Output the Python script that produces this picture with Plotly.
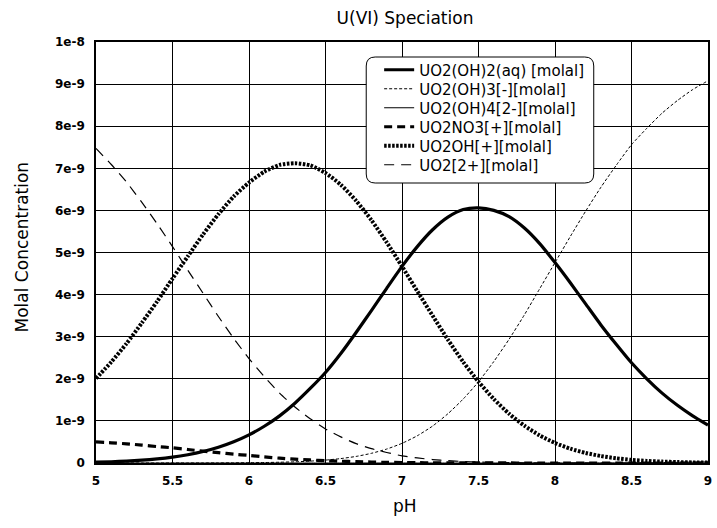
import plotly.graph_objects as go

# pH grid
ph = [5.0, 5.1, 5.2, 5.3, 5.4, 5.5, 5.6, 5.7, 5.8, 5.9,
      6.0, 6.1, 6.2, 6.3, 6.4, 6.5, 6.6, 6.7, 6.8, 6.9,
      7.0, 7.1, 7.2, 7.3, 7.4, 7.5, 7.6, 7.7, 7.8, 7.9,
      8.0, 8.1, 8.2, 8.3, 8.4, 8.5, 8.6, 8.7, 8.8, 8.9, 9.0]

# concentrations in units of 1e-9 molal
uo2oh2_aq = [0.020, 0.030, 0.045, 0.066, 0.096, 0.138, 0.196, 0.272, 0.373, 0.503,
             0.668, 0.873, 1.12, 1.42, 1.77, 2.15, 2.60, 3.10, 3.62, 4.15,
             4.67, 5.14, 5.54, 5.84, 6.02, 6.06, 6.00, 5.85, 5.58, 5.21,
             4.76, 4.28, 3.78, 3.28, 2.82, 2.38, 2.00, 1.66, 1.37, 1.12, 0.90]
uo2oh3 = [0.0, 0.0, 0.0, 0.0, 0.0, 0.001, 0.001, 0.001, 0.002, 0.004,
          0.007, 0.011, 0.018, 0.028, 0.045, 0.069, 0.105, 0.156, 0.230, 0.331,
          0.467, 0.647, 0.878, 1.17, 1.52, 1.93, 2.41, 2.94, 3.52, 4.14,
          4.76, 5.38, 5.98, 6.55, 7.07, 7.56, 7.95, 8.31, 8.61, 8.87, 9.08]
uo2oh4 = [0.0, 0.0, 0.0, 0.0, 0.0, 0.0, 0.0, 0.0, 0.0, 0.0,
          0.0, 0.0, 0.0, 0.0, 0.0, 0.0, 0.0, 0.0, 0.0, 0.0,
          0.0, 0.0, 0.0, 0.0, 0.0, 0.0, 0.0, 0.0, 0.0, 0.0,
          0.001, 0.001, 0.002, 0.003, 0.004, 0.006, 0.008, 0.011, 0.015, 0.020, 0.026]
uo2no3 = [0.50, 0.48, 0.455, 0.425, 0.39, 0.36, 0.32, 0.28, 0.245, 0.21,
          0.18, 0.145, 0.115, 0.092, 0.072, 0.055, 0.042, 0.031, 0.023, 0.016,
          0.012, 0.008, 0.005, 0.004, 0.002, 0.002, 0.001, 0.001, 0.0, 0.0,
          0.0, 0.0, 0.0, 0.0, 0.0, 0.0, 0.0, 0.0, 0.0, 0.0, 0.0]
uo2oh = [2.01, 2.40, 2.84, 3.33, 3.84, 4.38, 4.91, 5.43, 5.91, 6.33,
         6.66, 6.92, 7.08, 7.12, 7.07, 6.89, 6.61, 6.23, 5.77, 5.24,
         4.67, 4.08, 3.50, 2.93, 2.40, 1.93, 1.52, 1.17, 0.885, 0.655,
         0.476, 0.340, 0.238, 0.165, 0.112, 0.075, 0.050, 0.033, 0.022, 0.014, 0.009]
uo2 = [7.47, 7.09, 6.67, 6.19, 5.68, 5.14, 4.58, 4.03, 3.48, 2.96,
       2.48, 2.05, 1.66, 1.33, 1.05, 0.81, 0.62, 0.46, 0.34, 0.25,
       0.17, 0.12, 0.082, 0.055, 0.036, 0.023, 0.014, 0.009, 0.005, 0.003,
       0.002, 0.001, 0.001, 0.0, 0.0, 0.0, 0.0, 0.0, 0.0, 0.0, 0.0]

series_names = ["UO2(OH)2(aq) [molal]", "UO2(OH)3[-][molal]", "UO2(OH)4[2-][molal]",
                "UO2NO3[+][molal]", "UO2OH[+][molal]", "UO2[2+][molal]"]
series_values = [uo2oh2_aq, uo2oh3, uo2oh4, uo2no3, uo2oh, uo2]
series_styles = [dict(width=3.2, dash="solid"),
                 dict(width=1, dash="3px,2px"),
                 dict(width=1, dash="solid"),
                 dict(width=3.2, dash="8px,5px"),
                 dict(width=4, dash="2.5px,1.5px"),
                 dict(width=1.2, dash="10px,7px")]

y_tickvals = [0, 1, 2, 3, 4, 5, 6, 7, 8, 9, 10]
y_ticktext = ["0", "1e-9", "2e-9", "3e-9", "4e-9", "5e-9", "6e-9", "7e-9", "8e-9", "9e-9", "1e-8"]
x_tickvals = [5, 5.5, 6, 6.5, 7, 7.5, 8, 8.5, 9]
x_ticktext = ["5", "5.5", "6", "6.5", "7", "7.5", "8", "8.5", "9"]

FONT = "DejaVu Sans, Verdana, sans-serif"
W, H = 717, 528
L, R, T, B = 96, 5, 42, 65
pw, ph_px = W - L - R, H - T - B

def px2paper(x, y):
    return (x - L) / pw, (H - B - y) / ph_px

legend_ids = ["legend", "legend2", "legend3", "legend4", "legend5", "legend6"]
row_centers = [70, 89, 108, 127, 146, 165]

fig = go.Figure()
for name, vals, st, lid in zip(series_names, series_values, series_styles, legend_ids):
    fig.add_trace(go.Scatter(
        x=ph, y=[v * 1e-9 for v in vals], mode="lines", name=name, legend=lid,
        line=dict(color="black", width=st["width"], dash=st["dash"], shape="spline", smoothing=0.6),
    ))

# rounded legend box
x0, y0 = px2paper(368, 57)
x1, y1 = px2paper(597, 183)
rx, ry = 9 / pw, 9 / ph_px
path = (f"M {x0+rx},{y0} L {x1-rx},{y0} Q {x1},{y0} {x1},{y0-ry} "
        f"L {x1},{y1+ry} Q {x1},{y1} {x1-rx},{y1} L {x0+rx},{y1} "
        f"Q {x0},{y1} {x0},{y1+ry} L {x0},{y0-ry} Q {x0},{y0} {x0+rx},{y0} Z")
fig.add_shape(type="path", path=path, xref="paper", yref="paper",
              fillcolor="white", line=dict(color="black", width=1), layer="above")

legend_layout = {}
for lid, rc in zip(legend_ids, row_centers):
    lx, ly = px2paper(381, rc)
    legend_layout[lid] = dict(x=lx, y=ly, xanchor="left", yanchor="middle",
                              bgcolor="rgba(0,0,0,0)", borderwidth=0,
                              font=dict(size=15, family=FONT, color="black"),
                              itemwidth=30)

ax_x, ax_y = px2paper(22, 247)
ph_x, ph_y = px2paper(407, 506)

tickfont = dict(size=12, family="DejaVu Sans, sans-serif", color="black", weight=700)

fig.update_layout(
    width=W, height=H,
    margin=dict(l=L, r=R, t=T, b=B),
    paper_bgcolor="white", plot_bgcolor="white",
    font=dict(family=FONT, color="black"),
    title=dict(text="U(VI) Speciation", x=405 / W, xanchor="center",
               y=1 - 18 / H, yanchor="middle", font=dict(size=17, family=FONT, color="black")),
    showlegend=True,
    **legend_layout,
    xaxis=dict(range=[5, 9], tickvals=x_tickvals, ticktext=x_ticktext,
               showgrid=True, gridcolor="black", gridwidth=1, zeroline=False,
               showline=True, linecolor="black", linewidth=1.5, mirror=True, ticks="",
               ticklabelstandoff=6, tickfont=tickfont),
    yaxis=dict(range=[0, 1e-8], tickvals=[v * 1e-9 for v in y_tickvals], ticktext=y_ticktext,
               showgrid=True, gridcolor="black", gridwidth=1, zeroline=False,
               showline=True, linecolor="black", linewidth=1.5, mirror=True, ticks="",
               ticklabelstandoff=7, tickfont=tickfont),
    annotations=[
        dict(text="Molal Concentration", x=ax_x, y=ax_y, xref="paper", yref="paper",
             textangle=-90, showarrow=False, xanchor="center", yanchor="middle",
             font=dict(size=17, family=FONT, color="black")),
        dict(text="pH", x=ph_x, y=ph_y, xref="paper", yref="paper",
             showarrow=False, xanchor="center", yanchor="middle",
             font=dict(size=17, family=FONT, color="black")),
    ],
)

fig.write_html("out.html")
